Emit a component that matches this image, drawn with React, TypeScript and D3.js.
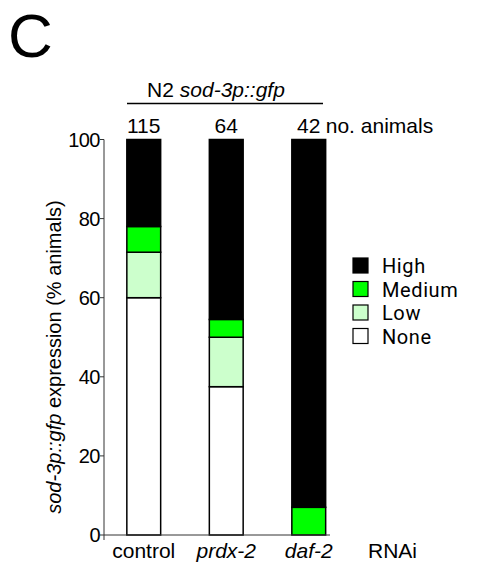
import * as d3 from "d3";
import React, { useEffect, useRef } from "react";

// RNAi conditions and % animals in each expression class
const categories = ["control", "prdx-2", "daf-2"];
const italicCat = [false, true, true];
const counts = [115, 64, 42];
const none = [60, 37.5, 0];
const low = [11.5, 12.5, 0];
const medium = [6.5, 4.5, 7];
const high = [22, 45.5, 93];
const levels = ["None", "Low", "Medium", "High"];
const levelColors = ["#ffffff", "#ccffcc", "#00ff00", "#000000"];
const yTicks = [0, 20, 40, 60, 80, 100];

const W = 481;
const H = 570;
const FONT = "Arial, 'Liberation Sans', sans-serif";
const FS = 21;

export default function App() {
  const ref = useRef<SVGSVGElement>(null);

  useEffect(() => {
    const svg = d3.select(ref.current);
    svg.selectAll("*").remove();

    const rows = categories.map((c, i) => ({
      cat: c,
      None: none[i],
      Low: low[i],
      Medium: medium[i],
      High: high[i],
    }));
    const series = d3.stack<any>().keys(levels)(rows);

    const x = d3
      .scaleBand()
      .domain(categories)
      .range([102.5, 350])
      .paddingInner(0.59)
      .paddingOuter(0.295);
    const y = d3.scaleLinear().domain([0, 100]).range([535, 139.5]);
    const color = d3.scaleOrdinal<string>().domain(levels).range(levelColors);

    // panel letter
    svg
      .append("text")
      .attr("x", 8)
      .attr("y", 57)
      .attr("font-family", FONT)
      .attr("font-size", 62)
      .text("C");

    // stacked bars
    svg
      .append("g")
      .selectAll("g")
      .data(series)
      .enter()
      .append("g")
      .attr("fill", (d) => color(d.key))
      .selectAll("rect")
      .data((d) => d.filter((p) => p[1] - p[0] > 0))
      .enter()
      .append("rect")
      .attr("x", (d: any) => x(d.data.cat)!)
      .attr("width", x.bandwidth())
      .attr("y", (d) => y(d[1]))
      .attr("height", (d) => y(d[0]) - y(d[1]))
      .attr("stroke", "#000")
      .attr("stroke-width", 1.5);

    // y axis
    const yAxis = svg.append("g");
    yAxis
      .append("line")
      .attr("x1", 104)
      .attr("x2", 104)
      .attr("y1", y(100))
      .attr("y2", y(0) + 5)
      .attr("stroke", "#333");
    yAxis
      .selectAll("line.tick")
      .data(yTicks)
      .enter()
      .append("line")
      .attr("class", "tick")
      .attr("x1", 100)
      .attr("x2", 104)
      .attr("y1", (d) => y(d))
      .attr("y2", (d) => y(d))
      .attr("stroke", "#333");
    yAxis
      .selectAll("text")
      .data(yTicks)
      .enter()
      .append("text")
      .attr("x", 100)
      .attr("y", (d) => y(d) + 7)
      .attr("text-anchor", "end")
      .attr("font-family", FONT)
      .attr("font-size", 20)
      .attr("letter-spacing", -0.5)
      .text((d) => d);

    // x axis
    svg
      .append("line")
      .attr("x1", 104)
      .attr("x2", 330)
      .attr("y1", y(0))
      .attr("y2", y(0))
      .attr("stroke", "#333");

    // category labels
    svg
      .append("g")
      .selectAll("text")
      .data(categories)
      .enter()
      .append("text")
      .attr("x", (d) => x(d)! + x.bandwidth() / 2)
      .attr("y", 558)
      .attr("text-anchor", "middle")
      .attr("font-family", FONT)
      .attr("font-size", FS)
      .attr("font-style", (d, i) => (italicCat[i] ? "italic" : "normal"))
      .text((d) => d);
    svg
      .append("text")
      .attr("x", 368)
      .attr("y", 558)
      .attr("font-family", FONT)
      .attr("font-size", FS)
      .text("RNAi");

    // counts
    svg
      .append("g")
      .selectAll("text")
      .data(counts)
      .enter()
      .append("text")
      .attr("x", (d, i) => x(categories[i])! + x.bandwidth() / 2)
      .attr("y", 133)
      .attr("text-anchor", "middle")
      .attr("font-family", FONT)
      .attr("font-size", FS)
      .text((d) => d);
    svg
      .append("text")
      .attr("x", x(categories[2])! + x.bandwidth() / 2 + 17)
      .attr("y", 133)
      .attr("font-family", FONT)
      .attr("font-size", FS)
      .text("no. animals");

    // strain header
    const hdr = svg
      .append("text")
      .attr("x", 216)
      .attr("y", 97)
      .attr("text-anchor", "middle")
      .attr("font-family", FONT)
      .attr("font-size", FS);
    hdr.append("tspan").text("N2 ");
    hdr.append("tspan").attr("font-style", "italic").text("sod-3p::gfp");
    svg
      .append("line")
      .attr("x1", 127)
      .attr("x2", 323)
      .attr("y1", 103.5)
      .attr("y2", 103.5)
      .attr("stroke", "#000")
      .attr("stroke-width", 1.5);

    // y label
    const yl = svg
      .append("text")
      .attr("transform", "translate(61,357) rotate(-90)")
      .attr("text-anchor", "middle")
      .attr("font-family", FONT)
      .attr("font-size", 20);
    yl.append("tspan").attr("font-style", "italic").text("sod-3p::gfp");
    yl.append("tspan").text(" expression (% animals)");

    // legend
    const legendOrder = levels.slice().reverse();
    const lg = svg
      .append("g")
      .selectAll("g")
      .data(legendOrder)
      .enter()
      .append("g")
      .attr("transform", (d, i) => `translate(353,${258 + i * 23.5})`);
    lg.append("rect")
      .attr("width", 15)
      .attr("height", 15)
      .attr("fill", (d) => color(d))
      .attr("stroke", "#000")
      .attr("stroke-width", 1.2);
    lg.append("text")
      .attr("x", 29)
      .attr("y", 15)
      .attr("font-family", "Roboto, sans-serif")
      .attr("font-size", 20)
      .attr("letter-spacing", 0.6)
      .text((d) => d);
  }, []);

  return (
    <svg
      ref={ref}
      width={W}
      height={H}
      style={{ position: "absolute", left: 0, top: 0, background: "#fff" }}
    />
  );
}
